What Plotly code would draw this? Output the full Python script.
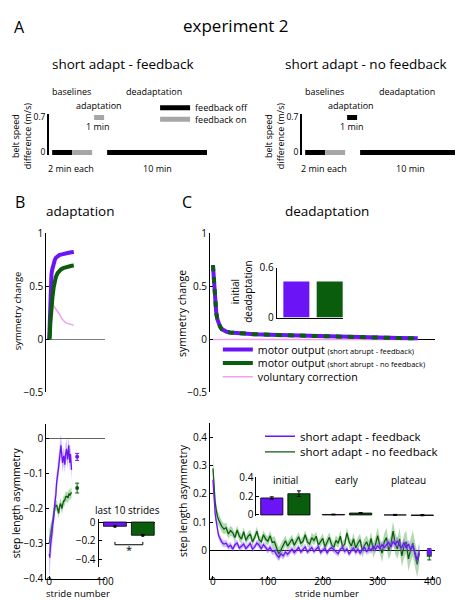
import plotly.graph_objects as go

W, H = 463, 600

# ---------------- data ----------------
# Panel A: protocol (durations in minutes, belt speed difference in m/s)
phase_names = ["baseline 1", "baseline 2", "adaptation", "deadaptation"]
phase_minutes = [2, 2, 1, 10]
phase_speed_diff = [0, 0, 0.7, 0]
feedback_on_fb = [False, True, True, False]
feedback_on_nofb = [False, True, False, False]

# Panel B top: adaptation symmetry change
adapt_sym_strides = [0, 1, 2, 3, 4, 5, 6, 8, 10, 12, 15, 18, 21, 25, 30, 35, 40, 44]
adapt_motor_fb = [0.0, 0.25, 0.45, 0.55, 0.61, 0.65, 0.68, 0.72, 0.75, 0.77, 0.785, 0.795, 0.80, 0.807, 0.813, 0.818, 0.822, 0.825]
adapt_motor_nofb = [0.0, 0.02, 0.15, 0.24, 0.31, 0.36, 0.41, 0.49, 0.55, 0.59, 0.625, 0.645, 0.66, 0.672, 0.682, 0.69, 0.695, 0.698]
adapt_voluntary = [0.42, 0.40, 0.39, 0.37, 0.355, 0.345, 0.33, 0.315, 0.30, 0.29, 0.27, 0.24, 0.21, 0.18, 0.155, 0.145, 0.137, 0.132]

# Panel C top: deadaptation symmetry change
deadapt_sym_strides = [0, 1, 2, 3, 4, 5, 6, 8, 10, 13, 16, 20, 25, 31, 40, 55, 75, 103, 150, 200, 250, 300, 340, 373]
deadapt_motor_fb = [0.70, 0.60, 0.51, 0.43, 0.36, 0.30, 0.25, 0.19, 0.155, 0.12, 0.097, 0.082, 0.072, 0.065, 0.06, 0.054, 0.049, 0.043, 0.035, 0.028, 0.02, 0.015, 0.012, 0.01]
deadapt_motor_nofb = [0.70, 0.60, 0.51, 0.43, 0.36, 0.30, 0.25, 0.19, 0.155, 0.12, 0.097, 0.082, 0.072, 0.065, 0.06, 0.054, 0.049, 0.043, 0.035, 0.028, 0.02, 0.015, 0.012, 0.01]
deadapt_vol_strides = [0, 373]
deadapt_voluntary = [0.0, 0.0]

groups = ["short adapt - feedback", "short adapt - no feedback"]
initial_deadapt = [0.435, 0.435]

# Panel B bottom: step length asymmetry during adaptation
adapt_strides = list(range(41))
adapt_sla_fb = [-0.33, -0.34, -0.31, -0.30, -0.28, -0.27, -0.25, -0.24, -0.23, -0.20, -0.19, -0.17, -0.16, -0.13, -0.12,
                -0.10, -0.09, -0.08, -0.065, -0.05, -0.03, -0.02, -0.04, -0.05, -0.07, -0.06, -0.05, -0.06, -0.075, -0.05,
                -0.035, -0.03, -0.045, -0.06, -0.04, -0.02, -0.05, -0.07, -0.045, -0.06, -0.09]
adapt_sla_fb_se = [0.06, 0.05, 0.045, 0.04, 0.04, 0.035, 0.035, 0.03, 0.03, 0.03, 0.03, 0.03, 0.03, 0.03, 0.028,
                   0.028, 0.028, 0.03, 0.03, 0.03, 0.035, 0.03, 0.03, 0.028, 0.028, 0.025, 0.025, 0.025, 0.025, 0.028,
                   0.025, 0.03, 0.025, 0.025, 0.03, 0.025, 0.025, 0.025, 0.028, 0.03, 0.03]
adapt_sla_nofb = [-0.30, -0.29, -0.28, -0.27, -0.255, -0.25, -0.235, -0.225, -0.22, -0.205, -0.20, -0.19, -0.195, -0.19, -0.195,
                  -0.205, -0.21, -0.214, -0.20, -0.19, -0.186, -0.19, -0.20, -0.20, -0.19, -0.18, -0.177, -0.18, -0.175, -0.17,
                  -0.165, -0.168, -0.165, -0.17, -0.168, -0.16, -0.158, -0.163, -0.16, -0.155, -0.154]
adapt_sla_nofb_se = [0.04, 0.035, 0.03, 0.025, 0.02, 0.02, 0.018, 0.018, 0.016, 0.015, 0.015, 0.015, 0.015, 0.015, 0.015,
                     0.015, 0.015, 0.015, 0.015, 0.015, 0.015, 0.015, 0.015, 0.015, 0.015, 0.015, 0.015, 0.015, 0.015, 0.015,
                     0.015, 0.015, 0.015, 0.015, 0.015, 0.015, 0.015, 0.015, 0.015, 0.015, 0.015]
adapt_end_stride = 50
adapt_end = [-0.053, -0.142]
adapt_end_se = [0.01, 0.014]
last10 = [-0.045, -0.14]
last10_se = [0.006, 0.008]

# Panel C bottom: step length asymmetry during deadaptation
deadapt_strides = [0, 1, 2, 3, 4, 5, 6, 7, 8, 10, 12, 14, 16, 18, 20] + list(range(24, 377, 4))
deadapt_sla_fb = [0.25, 0.21, 0.18, 0.15, 0.13, 0.115, 0.10, 0.085, 0.075, 0.055, 0.045, 0.035, 0.03, 0.025, 0.022,
                  0.025, 0.012, 0.018, 0.004, 0.02, 0.026, 0.008, 0.014, 0.022, 0.006,
                  0.016, 0.024, 0.004, 0.012, 0.026, 0.018, 0.006, 0.02, 0.01, 0.0,
                  0.01, -0.004, -0.002, -0.016, -0.024, -0.012, -0.02, -0.006, -0.014, -0.004,
                  0.004, -0.008, 0.0, 0.01, -0.006, 0.002, 0.012, -0.006, 0.004, 0.01,
                  -0.004, 0.006, 0.012, -0.008, 0.0, 0.008, -0.01, 0.004, 0.01, 0.002,
                  -0.006, -0.012, 0.004, 0.01, -0.004, 0.006, -0.014, 0.0, 0.008, -0.008,
                  0.004, -0.01, 0.002, 0.01, -0.006, 0.008, 0.0, 0.014, 0.004, 0.016,
                  0.006, 0.02, 0.01, 0.018, 0.028, 0.012, 0.03, 0.02, 0.034, 0.016,
                  0.01, 0.028, 0.008, 0.022, 0.002, 0.016, -0.012, -0.035, 0.0]
deadapt_sla_fb_se = [0.03, 0.028, 0.025, 0.022, 0.02, 0.018, 0.017, 0.016, 0.015, 0.014, 0.013, 0.013, 0.012, 0.012, 0.012,
                     0.012, 0.011, 0.012, 0.01, 0.012, 0.011, 0.01, 0.012, 0.011, 0.012,
                     0.01, 0.011, 0.012, 0.01, 0.011, 0.012, 0.011, 0.01, 0.012, 0.011,
                     0.012, 0.013, 0.012, 0.014, 0.013, 0.012, 0.013, 0.012, 0.011, 0.012,
                     0.011, 0.01, 0.012, 0.011, 0.01, 0.011, 0.012, 0.01, 0.011, 0.012,
                     0.011, 0.01, 0.012, 0.011, 0.01, 0.012, 0.011, 0.01, 0.012, 0.011,
                     0.012, 0.011, 0.01, 0.012, 0.011, 0.012, 0.01, 0.011, 0.012, 0.011,
                     0.012, 0.011, 0.012, 0.01, 0.012, 0.011, 0.012, 0.013, 0.012, 0.013,
                     0.014, 0.013, 0.014, 0.015, 0.014, 0.015, 0.016, 0.015, 0.016, 0.015,
                     0.016, 0.015, 0.016, 0.015, 0.016, 0.017, 0.018, 0.02, 0.018]
deadapt_sla_nofb = [0.29, 0.25, 0.22, 0.19, 0.17, 0.155, 0.14, 0.13, 0.12, 0.11, 0.10, 0.095, 0.085, 0.08, 0.075,
                    0.08, 0.058, 0.07, 0.062, 0.045, 0.072, 0.05, 0.04, 0.066, 0.035,
                    0.05, 0.058, 0.03, 0.045, 0.068, 0.038, 0.03, 0.055, 0.04, 0.032,
                    0.052, 0.028, 0.03, 0.004, -0.014, 0.002, 0.02, 0.034, 0.015, 0.028,
                    0.04, 0.018, 0.035, 0.048, 0.025, 0.032, 0.055, 0.03, 0.022, 0.045,
                    0.035, 0.05, 0.018, 0.028, 0.042, 0.012, 0.03, 0.046, 0.02, 0.01,
                    0.035, 0.025, 0.05, 0.012, 0.022, 0.062, 0.03, 0.015, 0.04, 0.008,
                    0.025, 0.038, -0.002, 0.018, 0.03, 0.008, 0.042, 0.0, 0.02, 0.052,
                    0.015, -0.01, 0.03, 0.045, 0.0, 0.02, 0.068, 0.025, 0.005, 0.04,
                    -0.02, 0.015, 0.03, -0.03, 0.0, 0.025, -0.015, -0.05, -0.01]
deadapt_sla_nofb_se = [0.045, 0.04, 0.035, 0.03, 0.028, 0.026, 0.025, 0.024, 0.023, 0.022, 0.021, 0.02, 0.02, 0.019, 0.019,
                       0.018, 0.017, 0.018, 0.016, 0.017, 0.016, 0.017, 0.016, 0.016, 0.015,
                       0.016, 0.015, 0.016, 0.015, 0.016, 0.015, 0.016, 0.015, 0.016, 0.016,
                       0.017, 0.018, 0.02, 0.022, 0.024, 0.022, 0.02, 0.018, 0.017, 0.016,
                       0.016, 0.017, 0.016, 0.017, 0.016, 0.017, 0.016, 0.017, 0.016, 0.017,
                       0.018, 0.017, 0.018, 0.017, 0.018, 0.017, 0.018, 0.018, 0.019, 0.018,
                       0.019, 0.018, 0.02, 0.019, 0.02, 0.019, 0.021, 0.02, 0.021, 0.02,
                       0.022, 0.021, 0.022, 0.024, 0.023, 0.025, 0.024, 0.026, 0.028, 0.03,
                       0.028, 0.032, 0.03, 0.034, 0.032, 0.036, 0.034, 0.038, 0.036, 0.04,
                       0.038, 0.042, 0.04, 0.044, 0.042, 0.045, 0.044, 0.046, 0.04]
deadapt_end_stride = 394
deadapt_end = [-0.005, -0.014]
deadapt_end_se = [0.01, 0.02]

epochs = ["initial", "early", "plateau"]
epoch_fb = [0.18, 0.005, 0.0]
epoch_fb_se = [0.012, 0.004, 0.006]
epoch_nofb = [0.225, 0.02, -0.006]
epoch_nofb_se = [0.03, 0.006, 0.01]

# ---------------- styling ----------------
PURPLE = "#6b14f5"
GREEN = "#0b5d0e"
PINK = "#f0a0ee"
FB_GRAY = "#a6a6a6"
PURPLE_BAND = "rgba(150,100,255,0.45)"
GREEN_BAND = "rgba(60,160,60,0.40)"
FONT = "Open Sans"
SMALL = "<span style='font-size:7.5px'>"


def dom_x(a, b):
    return [a / W, b / W]


def dom_y(top, bottom):
    return [1 - bottom / H, 1 - top / H]


fig = go.Figure()


def line(x, y, n, color, width, dash=None, name=None, legend=None):
    xa = "x" if n == 1 else f"x{n}"
    ya = "y" if n == 1 else f"y{n}"
    if legend:
        kw = dict(name=name, legend=legend, showlegend=True)
    else:
        kw = dict(showlegend=False)
    fig.add_trace(go.Scatter(x=x, y=y, xaxis=xa, yaxis=ya, mode="lines",
                             line=dict(color=color, width=width, dash=dash),
                             hoverinfo="skip", **kw))


def band(x, mean, se, n, fillcolor):
    xa, ya = f"x{n}", f"y{n}"
    upper = [m + s for m, s in zip(mean, se)]
    lower = [m - s for m, s in zip(mean, se)]
    fig.add_trace(go.Scatter(x=x, y=upper, xaxis=xa, yaxis=ya, mode="lines", line=dict(width=0),
                             showlegend=False, hoverinfo="skip"))
    fig.add_trace(go.Scatter(x=x, y=lower, xaxis=xa, yaxis=ya, mode="lines", line=dict(width=0),
                             fill="tonexty", fillcolor=fillcolor, showlegend=False, hoverinfo="skip"))


# ---- Panel A schematics ----
gaps_before = [0, 0, 0.2, 0.3]
starts = []
t = 0
for d, g in zip(phase_minutes, gaps_before):
    t += g
    starts.append(t)
    t += d
legend_done = set()
for n, fbs in [(1, feedback_on_fb), (2, feedback_on_nofb)]:
    for s, d, v, on in zip(starts, phase_minutes, phase_speed_diff, fbs):
        key = "feedback on" if on else "feedback off"
        lg = None
        if n == 1 and key not in legend_done:
            legend_done.add(key)
            lg = "legend2" if on else "legend"
        line([s, s + d], [v, v], n, FB_GRAY if on else "black", 5, name=key, legend=lg)

# ---- Panel B top ----
line(adapt_sym_strides, adapt_voluntary, 3, PINK, 1.5)
line(adapt_sym_strides, adapt_motor_fb, 3, PURPLE, 4)
line(adapt_sym_strides, adapt_motor_nofb, 3, GREEN, 4)

# ---- Panel C top ----
line(deadapt_vol_strides, deadapt_voluntary, 4, PINK, 1.5, name="voluntary correction", legend="legend5")
line(deadapt_sym_strides, deadapt_motor_fb, 4, PURPLE, 4,
     name="motor output " + SMALL + "(short abrupt - feedback)</span>", legend="legend3")
line(deadapt_sym_strides, deadapt_motor_nofb, 4, GREEN, 4, dash="6px,6px")
# legend key for the no-feedback motor output (solid, as in the reference legend)
fig.add_trace(go.Scatter(x=[None], y=[None], xaxis="x4", yaxis="y4", mode="lines",
                         line=dict(color=GREEN, width=4), showlegend=True, legend="legend4",
                         name="motor output " + SMALL + "(short abrupt - no feedback)</span>", hoverinfo="skip"))

fig.add_trace(go.Bar(x=groups, y=initial_deadapt, xaxis="x5", yaxis="y5", width=0.78,
                     marker=dict(color=[PURPLE, GREEN], line=dict(width=0)),
                     showlegend=False, hoverinfo="skip"))

# ---- Panel B bottom ----
band(adapt_strides, adapt_sla_nofb, adapt_sla_nofb_se, 6, GREEN_BAND)
line(adapt_strides, adapt_sla_nofb, 6, GREEN, 1.3)
band(adapt_strides, adapt_sla_fb, adapt_sla_fb_se, 6, PURPLE_BAND)
line(adapt_strides, adapt_sla_fb, 6, PURPLE, 1.3)
for val, se, col in zip(adapt_end, adapt_end_se, [PURPLE, GREEN]):
    fig.add_trace(go.Scatter(x=[adapt_end_stride], y=[val], xaxis="x6", yaxis="y6", mode="markers",
                             marker=dict(color=col, size=4),
                             error_y=dict(type="data", array=[se], color=col, thickness=1, width=2),
                             showlegend=False, hoverinfo="skip"))

fig.add_trace(go.Bar(x=groups, y=last10, xaxis="x7", yaxis="y7", width=0.82,
                     marker=dict(color=[PURPLE, GREEN], line=dict(color="black", width=0.8)),
                     showlegend=False, hoverinfo="skip"))
fig.add_trace(go.Scatter(x=groups, y=last10, xaxis="x7", yaxis="y7", mode="markers",
                         marker=dict(color="black", size=3),
                         error_y=dict(type="data", array=last10_se, color="black", thickness=1, width=1.5),
                         showlegend=False, hoverinfo="skip"))
br_y = min(last10) - 0.1
br_tick = 0.03
line([groups[0], groups[0], groups[1], groups[1]], [br_y + br_tick, br_y, br_y, br_y + br_tick], 7, "black", 1)

# ---- Panel C bottom ----
band(deadapt_strides, deadapt_sla_nofb, deadapt_sla_nofb_se, 8, GREEN_BAND)
line(deadapt_strides, deadapt_sla_nofb, 8, GREEN, 1.3, name="short adapt - no feedback", legend="legend7")
band(deadapt_strides, deadapt_sla_fb, deadapt_sla_fb_se, 8, PURPLE_BAND)
line(deadapt_strides, deadapt_sla_fb, 8, PURPLE, 1.3, name="short adapt - feedback", legend="legend6")
for val, se, col in zip(deadapt_end[::-1], deadapt_end_se[::-1], [GREEN, PURPLE]):
    fig.add_trace(go.Scatter(x=[deadapt_end_stride], y=[val], xaxis="x8", yaxis="y8", mode="markers",
                             marker=dict(color=col, size=5, symbol="square"),
                             error_y=dict(type="data", array=[se], color=col, thickness=1, width=2),
                             showlegend=False, hoverinfo="skip"))

for vals, ses, col, off in [(epoch_fb, epoch_fb_se, PURPLE, -0.40), (epoch_nofb, epoch_nofb_se, GREEN, 0.04)]:
    fig.add_trace(go.Bar(x=epochs, y=vals, xaxis="x9", yaxis="y9", width=0.36, offset=off,
                         marker=dict(color=col, line=dict(color="black", width=0.8)),
                         error_y=dict(type="data", array=ses, color="black", thickness=1, width=2),
                         showlegend=False, hoverinfo="skip"))

# ---------------- axes ----------------
layout = {}
TICKF = dict(size=10, color="black", family=FONT)


def set_axes(n, xdom, ydom, xr, yr, xkw=None, ykw=None):
    xs = "xaxis" if n == 1 else f"xaxis{n}"
    ys = "yaxis" if n == 1 else f"yaxis{n}"
    xid = "x" if n == 1 else f"x{n}"
    yid = "y" if n == 1 else f"y{n}"
    xa = dict(domain=dom_x(*xdom), range=xr, anchor=yid, showgrid=False, zeroline=False, fixedrange=True)
    ya = dict(domain=dom_y(*ydom), range=yr, anchor=xid, showgrid=False, zeroline=False, fixedrange=True)
    xa.update(xkw or {})
    ya.update(ykw or {})
    layout[xs] = xa
    layout[ys] = ya


hidden = dict(visible=False)
yl = dict(showline=True, linecolor="black", linewidth=1, ticks="inside", ticklen=3, tickcolor="black",
          tickfont=TICKF)
xl = dict(showline=True, linecolor="black", linewidth=1, ticks="inside", ticklen=3, tickcolor="black",
          tickfont=TICKF, ticklabelstandoff=-7)

sch_y = dict(showline=True, linecolor="black", linewidth=2, ticks="", tickvals=[0, 0.7],
             tickfont=dict(size=8.5, color="black", family=FONT))
set_axes(1, (42, 205), (101, 143), [-0.3, 15.7], [-0.058, 0.758], hidden, sch_y)
set_axes(2, (300, 463), (101, 143), [-0.3, 15.7], [-0.058, 0.758], hidden, sch_y)

set_axes(3, (39, 99.3), (223, 386), [-5.3, 100.5], [-0.5, 1], hidden,
         dict(yl, tickvals=[-0.5, 0, 0.5, 1], zeroline=True, zerolinecolor="#808080", zerolinewidth=1.2))
set_axes(4, (206, 435), (223, 386), [-5.4, 403.6], [-0.5, 1], hidden,
         dict(yl, tickvals=[-0.5, 0, 0.5, 1], zeroline=True, zerolinecolor="black", zerolinewidth=1))
set_axes(5, (274, 342), (258.3, 309.3), [-0.59, 1.41], [0, 0.6],
         dict(type="category", showline=True, linecolor="black", linewidth=1, ticks="", showticklabels=False),
         dict(yl, tickvals=[0, 0.6]))
set_axes(6, (39, 99.3), (418, 577), [-5.3, 100.5], [-0.4, 0.042],
         dict(xl, tickvals=[0, 100]),
         dict(yl, tickvals=[-0.4, -0.3, -0.2, -0.1, 0], zeroline=True, zerolinecolor="#606060", zerolinewidth=1.2))
set_axes(7, (92.3, 150), (516, 565), [-0.59, 1.44], [-0.474, 0.031],
         dict(type="category", visible=False),
         dict(yl, tickvals=[-0.4, -0.2, 0], zeroline=True, zerolinecolor="black", zerolinewidth=1))
set_axes(8, (206, 435), (417, 577), [-5.4, 403.6], [-0.1, 0.452],
         dict(xl, tickvals=[0, 100, 200, 300, 400]),
         dict(yl, tickvals=[0, 0.1, 0.2, 0.3, 0.4], zeroline=True, zerolinecolor="black", zerolinewidth=1))
set_axes(9, (253.3, 437), (473, 513), [-0.47, 2.45], [-0.013, 0.4],
         dict(type="category", visible=False),
         dict(yl, tickvals=[0, 0.2, 0.4]))


# ---------------- legends (one entry each, placed like the reference) ----------------
def legend_at(text_x, y_px, size):
    return dict(x=(text_x - 40) / W, y=1 - y_px / H, xanchor="left", yanchor="middle",
                bgcolor="rgba(0,0,0,0)", borderwidth=0, itemclick=False, itemdoubleclick=False,
                font=dict(size=size, color="black", family=FONT), tracegroupgap=0)


layout["legend"] = legend_at(190, 94, 9)
layout["legend2"] = legend_at(190, 106, 9)
layout["legend3"] = legend_at(254, 342, 10.6)
layout["legend4"] = legend_at(254, 356, 10.6)
layout["legend5"] = legend_at(254, 370, 10.6)
layout["legend6"] = legend_at(297, 431, 11.5)
layout["legend7"] = legend_at(297, 447, 11.5)

# ---------------- text ----------------
annotations = []


def ann(text, x, y, size, **kw):
    d = dict(text=text, x=x / W, y=1 - y / H, xref="paper", yref="paper", showarrow=False,
             font=dict(size=size, color="black", family=FONT), xanchor="center", yanchor="middle")
    d.update(kw)
    annotations.append(d)


ann("A", 12, 11, 16)
ann("B", 12, 191, 16)
ann("C", 183, 191, 16)
ann("experiment 2", 233, 10, 17)
ann("short adapt - feedback", 117, 49, 13.5)
ann("short adapt - no feedback", 365, 49, 13.5)

for dx, lab_adapt_x, one_min_x in [(0, 93, 92), (258, 350, 351)]:
    ann("baselines", 65 + dx, 77, 9)
    ann("deadaptation", 149 + dx, 77, 9)
    ann("adaptation", lab_adapt_x, 92, 9)
    ann("1 min", one_min_x, 113, 9)
    ann("2 min each", 64 + dx, 156, 9)
    ann("10 min", 152 + dx, 156, 9)
    ann("belt speed<br>difference (m/s)", 14.5 + dx, 123, 9, textangle=-90)

ann("adaptation", 73, 200, 13.5)
ann("deadaptation", 325, 200, 13.5)
ann("symmetry change", 10, 302, 9.5, textangle=-90)
ann("symmetry change", 178, 305, 10.5, textangle=-90)
ann("initial<br>deadaptation", 238.5, 283, 10, textangle=-90)

ann("step length asymmetry", 8, 499, 10.3, textangle=-90)
ann("step length asymmetry", 178, 497, 10.5, textangle=-90)
ann("stride number", 71, 592.3, 9.6)
ann("stride number", 325, 592.3, 9.6)
ann("last 10 strides", 122, 507, 10)

for i, ep in enumerate(epochs):
    annotations.append(dict(text=ep, x=i, y=0.37, xref="x9", yref="y9", showarrow=False,
                            font=dict(size=10, color="black", family=FONT), xanchor="center", yanchor="middle"))
annotations.append(dict(text="*", x=0.5, y=br_y - 0.055, xref="x7", yref="y7", showarrow=False,
                        font=dict(size=11, color="black", family=FONT), xanchor="center", yanchor="middle"))

fig.update_layout(
    width=W, height=H, autosize=False,
    margin=dict(l=0, r=0, t=0, b=0),
    paper_bgcolor="white", plot_bgcolor="rgba(0,0,0,0)",
    font=dict(family=FONT, color="black"),
    showlegend=True,
    annotations=annotations,
    **layout,
)

fig.write_html("out.html", config={"displayModeBar": False})
